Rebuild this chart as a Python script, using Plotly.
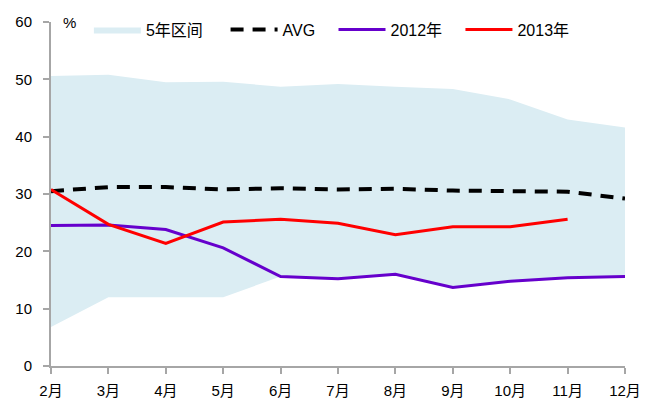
import plotly.graph_objects as go

months = ["2月", "3月", "4月", "5月", "6月", "7月", "8月", "9月", "10月", "11月", "12月"]
band_upper = [50.6, 50.8, 49.5, 49.6, 48.7, 49.2, 48.7, 48.3, 46.5, 43.0, 41.6]
band_lower = [6.8, 12.0, 12.0, 12.0, 15.6, 15.2, 16.0, 13.7, 14.8, 15.4, 15.6]
avg = [30.5, 31.2, 31.2, 30.8, 31.0, 30.8, 30.9, 30.6, 30.5, 30.4, 29.2]
y2012 = [24.5, 24.6, 23.8, 20.6, 15.6, 15.2, 16.0, 13.7, 14.8, 15.4, 15.6]
months_2013 = months[:10]
y2013 = [30.8, 24.7, 21.4, 25.1, 25.6, 24.9, 22.9, 24.3, 24.3, 25.6]
series_names = ["5年区间", "AVG", "2012年", "2013年"]

font_family = "Liberation Sans, Noto Sans CJK SC"
axis_grey = "#A6A6A6"
NB = "\u00a0"  # legend spacing pad

fig = go.Figure()
fig.add_trace(go.Scatter(x=months, y=band_lower, mode="lines", line=dict(width=0),
                         showlegend=False, hoverinfo="skip"))
fig.add_trace(go.Scatter(x=months, y=band_upper, mode="lines", line=dict(width=0),
                         fill="tonexty", fillcolor="#DBEDF3", name=series_names[0] + NB * 4))
fig.add_trace(go.Scatter(x=months, y=avg, mode="lines", name=series_names[1] + NB * 3,
                         line=dict(color="black", width=4, dash="13px,9px")))
fig.add_trace(go.Scatter(x=months, y=y2012, mode="lines", name=series_names[2] + NB * 3,
                         line=dict(color="#6600CC", width=3)))
fig.add_trace(go.Scatter(x=months_2013, y=y2013, mode="lines", name=series_names[3],
                         line=dict(color="#FF0000", width=3)))

fig.update_layout(
    width=644, height=393,
    margin=dict(l=43, r=27, t=14, b=35, autoexpand=False),
    paper_bgcolor="white", plot_bgcolor="white",
    font=dict(family=font_family, size=15, color="black"),
    legend=dict(orientation="h", x=0.066, y=0.978, xanchor="left", yanchor="middle",
                bgcolor="rgba(0,0,0,0)", font=dict(size=16), itemwidth=47,
                traceorder="normal"),
    xaxis=dict(type="category", range=[0, 10], showline=True, linecolor=axis_grey,
               linewidth=2, ticks="outside", ticklen=6, tickcolor=axis_grey,
               tickwidth=1.5, showgrid=False, zeroline=False, ticklabelstandoff=4),
    yaxis=dict(range=[0, 60], dtick=10, showline=True, linecolor=axis_grey,
               linewidth=2, ticks="outside", ticklen=6, tickcolor=axis_grey,
               tickwidth=1.5, showgrid=False, zeroline=False, ticklabelstandoff=8),
    annotations=[dict(text="%", xref="paper", yref="paper", x=0.018, y=1.0,
                      xanchor="left", yanchor="middle", showarrow=False,
                      font=dict(size=15))],
)

fig.write_html("out.html")
